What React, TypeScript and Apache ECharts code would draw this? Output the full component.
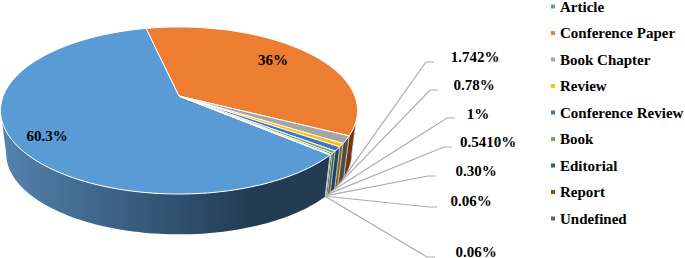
import React, { useEffect, useRef } from "react";
import * as echarts from "echarts";

const categories = ["Article", "Conference Paper", "Book Chapter", "Review", "Conference Review", "Book", "Editorial", "Report", "Undefined"];
const values = [60.3, 36, 1.742, 0.78, 1, 0.541, 0.3, 0.06, 0.06];
const valueLabels = ["60.3%", "36%", "1.742%", "0.78%", "1%", "0.5410%", "0.30%", "0.06%", "0.06%"];
const topColors = ["#5B9BD5", "#ED7D31", "#A5A5A5", "#FFC000", "#4472C4", "#70AD47", "#255E91", "#9E480E", "#636363"];
const wallColors = ["#233C54", "#70390F", "#4C4C4C", "#856400", "#243F70", "#3F6428", "#173A58", "#5A2908", "#3A3A3A"];

// layout of the perspective disc
const START = 130.3; const AX = 179; const AY = 96; const R = 175.8; const H = 81; const P = 0.1736;
const BY = 139.5; const K = 0.968; const VIS0 = 100; const VIS1 = 260;

// callouts: label centre and elbow (from the elbow's far end to the wall)
const calloutLayout: Record<number, { cx: number; cy: number; ex0: number; ex1: number; ey: number }> = {
  2: { cx: 475, cy: 57, ex0: 426, ex1: 434, ey: 62 },
  3: { cx: 474, cy: 85, ex0: 430, ex1: 438, ey: 90 },
  4: { cx: 478, cy: 114, ex0: 447, ex1: 455, ey: 118 },
  5: { cx: 488, cy: 142, ex0: 444, ex1: 452, ey: 147 },
  6: { cx: 476, cy: 171, ex0: 428, ex1: 436, ey: 176 },
  7: { cx: 471, cy: 201, ex0: 429, ex1: 437, ey: 207 },
  8: { cx: 476, cy: 251.5, ex0: 427, ex1: 435, ey: 257 },
};
const insideLayout: Record<number, [number, number]> = { 0: [47, 136], 1: [273, 60] };

// The printed shares sum past 100; the two large slices are drawn at their printed
// share of a full circle and the small ones share what is left, as in the picture.
const largeSum = values[0] + values[1];
const smallSum = values.slice(2).reduce((a, b) => a + b, 0);
const shares = values.map((v, i) => (i < 2 ? v : (v * (100 - largeSum)) / smallSum));
const ranges = shares.map((_, i) => {
  const before = shares.slice(0, i).reduce((a, b) => a + b, 0);
  return [START + (before / 100) * 360, START + ((before + shares[i]) / 100) * 360];
});

const project = (deg: number, bottom: boolean): number[] => {
  const t = (deg * Math.PI) / 180;
  const X = Math.sin(t); const Z = Math.cos(t); const s = 1 + P * Z;
  return bottom ? [AX + (R * K * X) / s, BY - (H * K * Z) / s] : [AX + (R * X) / s, AY - (H * Z) / s];
};
const arc = (a: number, b: number, bottom: boolean) => {
  const n = Math.max(2, Math.ceil(Math.abs(b - a) / 1.5));
  const out: number[][] = [];
  for (let i = 0; i <= n; i++) out.push(project(a + ((b - a) * i) / n, bottom));
  return out;
};

const FONT = '"Liberation Serif", "Times New Roman", serif';

const sliceSeries = (i: number) => ({
  type: "custom",
  name: categories[i],
  coordinateSystem: "none",
  itemStyle: { color: topColors[i] },
  silent: true,
  data: [[values[i]]],
  renderItem: () => {
    const [a, b] = ranges[i];
    const children: any[] = [];
    for (const shift of [0, 360]) {
      const w0 = Math.max(a, VIS0 + shift); const w1 = Math.min(b, VIS1 + shift);
      if (w1 > w0) {
        const fill = i === 0
          ? new echarts.graphic.LinearGradient(0, 0, 1, 0, [
              { offset: 0, color: "#5383B0" },
              { offset: 0.75, color: "#233C54" },
              { offset: 1, color: "#233C54" },
            ])
          : wallColors[i];
        children.push({
          type: "polygon",
          shape: { points: [...arc(w0, w1, false), ...arc(w1, w0, true)] },
          style: { fill, stroke: i === 0 ? "none" : "#D9D9D9", lineWidth: i === 0 ? 0 : 0.6 },
        });
      }
    }
    children.push({
      type: "polygon",
      shape: { points: [[AX, AY], ...arc(a, b, false)] },
      style: { fill: topColors[i], stroke: "#FFFFFF", lineWidth: 1 },
    });
    return { type: "group", children };
  },
});

const calloutSeries = {
  type: "custom",
  name: "callouts",
  coordinateSystem: "none",
  silent: true,
  z: 5,
  data: values.map((v) => [v]),
  renderItem: (params: any) => {
    const i = params.dataIndex;
    const textStyle = { fontFamily: FONT, fontWeight: "bold", fontSize: 15, lineHeight: 12, fill: "#000000", align: "center", verticalAlign: "middle" };
    if (insideLayout[i]) {
      return { type: "text", x: insideLayout[i][0], y: insideLayout[i][1], style: { ...textStyle, text: valueLabels[i] } };
    }
    const c = calloutLayout[i];
    const mid = (ranges[i][0] + ranges[i][1]) / 2;
    const start = project(mid, true);
    return {
      type: "group",
      children: [
        { type: "polyline", shape: { points: [start, [c.ex0, c.ey], [c.ex1, c.ey]] }, style: { fill: "none", stroke: "#ABABAB", lineWidth: 1.2 } },
        { type: "text", x: c.cx, y: c.cy, style: { ...textStyle, text: valueLabels[i] } },
      ],
    };
  },
};

export default function App() {
  const ref = useRef<HTMLDivElement>(null);
  useEffect(() => {
    const chart = echarts.init(ref.current!, null, { renderer: "svg" });
    chart.setOption({
      animation: false,
      backgroundColor: "#FFFFFF",
      legend: {
        orient: "vertical",
        left: 551,
        top: -1,
        padding: 0,
        itemWidth: 4,
        itemHeight: 4,
        itemGap: 11.5,
        icon: "rect",
        selectedMode: false,
        data: categories,
        textStyle: { fontFamily: FONT, fontWeight: "bold", fontSize: 15, color: "#000000", lineHeight: 12, padding: [0, 0, 0, 0] },
      },
      series: [...categories.map((_, i) => sliceSeries(i)), calloutSeries],
    });
    return () => chart.dispose();
  }, []);
  return <div ref={ref} style={{ position: "fixed", left: 0, top: 0, width: 685, height: 258 }} />;
}
